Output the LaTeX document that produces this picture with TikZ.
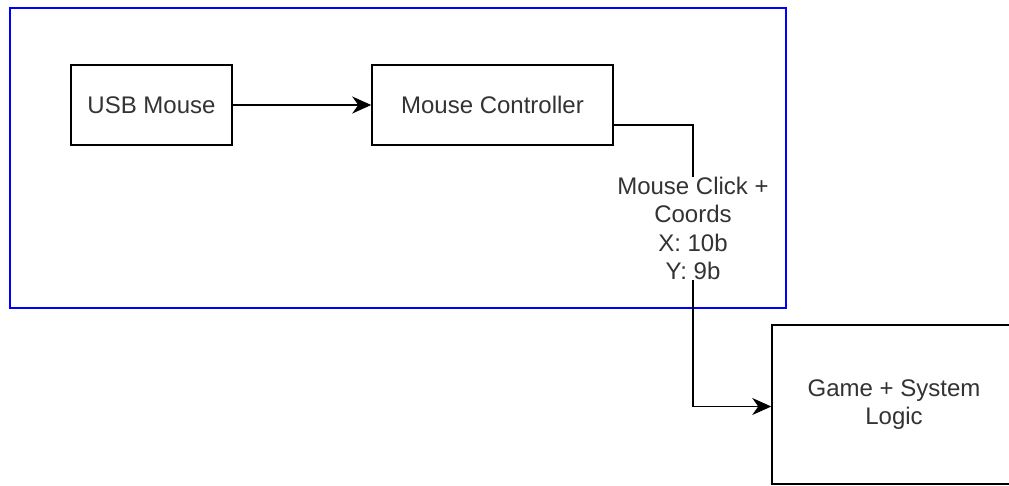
\documentclass[tikz,border=0pt]{standalone}
\usepackage{fontspec}
\setmainfont{Liberation Sans}
\usetikzlibrary{arrows.meta}
\begin{document}
\begin{tikzpicture}[x=1pt,y=-1pt,
  box/.style={draw=black, line width=1.5pt, text=black!80, font=\fontsize{24}{28.5}\selectfont},
  link/.style={draw=black, line width=1.5pt, -{Stealth[length=19pt,width=17pt,inset=6pt]}},
  tag/.style={fill=white, text=black!80, align=center, inner xsep=2pt, inner ysep=0pt, font=\fontsize{24}{28.5}\selectfont}]
\useasboundingbox (0,0) rectangle (1009,485);
\fill[white] (0,0) rectangle (1009,485);
\draw[blue, line width=1.5pt] (10,8) rectangle (786,308);

\node (usb) at (151.5,105) [box, minimum width=161pt, minimum height=80pt]{USB Mouse};
\node (ctrl) at (492.5,105) [box, minimum width=241pt, minimum height=80pt]{Mouse Controller};
\node (game) at (894,404.5) [box, minimum width=244pt, minimum height=159pt, align=center]{Game + System\\Logic};
\coordinate (turn) at (693,406.5);

\draw[link] (usb)--(ctrl);
\draw[link] ([yshift=-20pt]ctrl.east) -| (turn) -- (turn -| game.west);
\node (coords) at (693,228.5) [tag]{Mouse Click +\\Coords\\X: 10b\\Y: 9b};

\end{tikzpicture}
\end{document}
